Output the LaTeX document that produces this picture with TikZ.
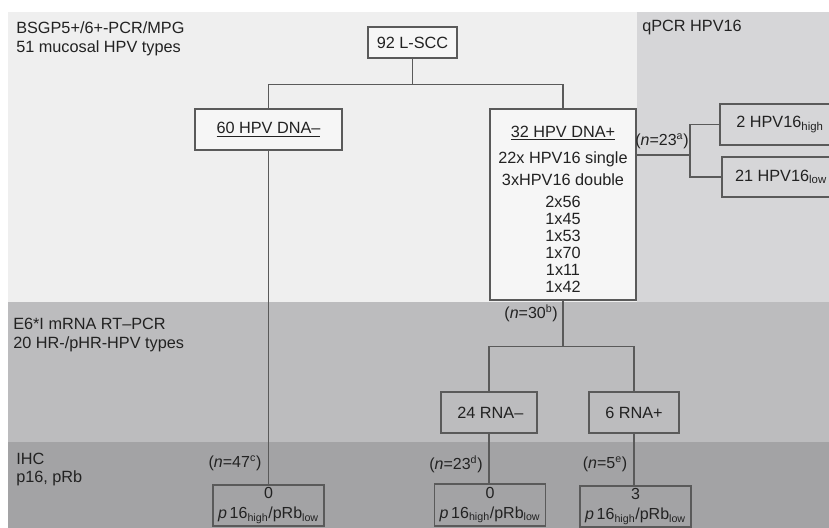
\documentclass[tikz,border=0pt]{standalone}
\usepackage{fontspec}
\setmainfont{Liberation Sans}
\usetikzlibrary{calc}
\definecolor{bandA}{HTML}{EFEFEF}
\definecolor{bandQ}{HTML}{D6D6D8}
\definecolor{bandB}{HTML}{BCBCBE}
\definecolor{bandC}{HTML}{A3A3A5}
\definecolor{boxfill}{HTML}{F6F6F6}
\definecolor{linec}{HTML}{5A5A5A}
\definecolor{txt}{HTML}{222222}
\tikzset{
  fbox/.style={draw=linec, line width=0.8pt, inner sep=0pt, text=txt, font=\fontsize{12.2}{14}\selectfont},
  wbox/.style={fbox, fill=boxfill},
  conn/.style={draw=linec, line width=0.8pt},
  lbl/.style={inner sep=0pt, text=txt, font=\fontsize{12.2}{14}\selectfont},
  nlbl/.style={inner sep=0pt, text=txt, font=\fontsize{12}{13}\selectfont},
  pbox/.style={fbox, align=center, font=\fontsize{12}{15}\selectfont},
}
\newcommand{\nlab}[2]{(\textit{n}=#1\textsuperscript{#2})}
\newcommand{\pline}{\textit{p}\,16\textsubscript{high}/pRb\textsubscript{low}}
\begin{document}
\begin{tikzpicture}[x=0.75pt,y=-0.75pt]
\useasboundingbox (0,0) rectangle (829,528);
\begin{scope}
\clip (0,0) rectangle (829,528);
% bands
\fill[white] (0,0) rectangle (829,528);
\fill[bandA] (8,12) rectangle (637,302);
\fill[bandQ] (637,12) rectangle (829,302);
\fill[bandB] (8,302) rectangle (829,442);
\fill[bandC] (8,442) rectangle (829,528);

% band labels
\node[lbl, anchor=base west] (b1a) at (16,34) {BSGP5+/6+-PCR/MPG};
\node[lbl, anchor=base west] (b1b) at (16,53) {51 mucosal HPV types};
\node[lbl, anchor=base west] (bq) at (642,32) {qPCR HPV16};
\node[lbl, anchor=base west] (b2a) at (13,329) {E6*I mRNA RT–PCR};
\node[lbl, anchor=base west] (b2b) at (13,348) {20 HR-/pHR-HPV types};
\node[lbl, anchor=base west] (b3a) at (16,464) {IHC};
\node[lbl, anchor=base west] (b3b) at (16,482) {p16, pRb};

% boxes
\node[wbox, minimum width=66.75pt, minimum height=23.25pt] (lscc) at (412.5,42.5) {92 L-SCC};
\node[wbox, minimum width=110.25pt, minimum height=30.75pt] (dnaneg) at (268.5,129.5) {\underline{60 HPV DNA–}};
\node[wbox, minimum width=109.5pt, minimum height=143.25pt] (dnapos) at (563,204.5) {};
\node[fbox, minimum width=90pt, minimum height=30.75pt] (high) at (780,124.5) {2 HPV16\textsubscript{high}};
\node[fbox, minimum width=88.5pt, minimum height=30pt] (low) at (781,177) {21 HPV16\textsubscript{low}};
\node[fbox, minimum width=72pt, minimum height=30.75pt] (rneg) at (489,412.5) {\,24 RNA–};
\node[fbox, minimum width=67.5pt, minimum height=30.75pt] (rpos) at (634,412.5) {6 RNA+};
\node[pbox, minimum width=83.25pt, minimum height=30.75pt] (p1) at (268.5,505.5) {0\\\pline};
\node[pbox, minimum width=83.25pt, minimum height=31.5pt] (p2) at (490,505) {0\\\pline};
\node[pbox, minimum width=83.25pt, minimum height=30.75pt] (p3) at (635.5,506.5) {3\\\pline};

% contents of 32 HPV DNA+
\node[lbl, anchor=base] (d1) at (563,137.5) {\underline{32 HPV DNA+}};
\node[lbl, anchor=base] (d2) at (563,163.5) {22x HPV16 single};
\node[lbl, anchor=base] (d3) at (563,185.5) {3xHPV16 double};
\foreach \t [count=\i] in {2x56,1x45,1x53,1x70,1x11,1x42}{
  \node[lbl, anchor=base] (dl\i) at (563,207.5+17*\i-17) {\t};
}

% connectors
\draw[conn] (lscc.south) -- ++(0,26) coordinate (j1) -| (dnaneg.north);
\draw[conn] (j1) -| (dnapos.north);
\draw[conn] (dnaneg.south) -- (p1.north);
\coordinate (qj) at (690,155);
\draw[conn] (qj -| dnapos.east) -- (qj);
\draw[conn] (high.west) -| (qj) |- (low.west);
\draw[conn] (dnapos.south) -- ++(0,46) coordinate (j2) -| (rneg.north);
\draw[conn] (j2) -| (rpos.north);
\draw[conn] (rneg.south) -- (rneg.south |- p2.north);
\draw[conn] (rpos.south) -- (rpos.south |- p3.north);

% n labels
\node[nlbl] (n23a) at (662,141) {\nlab{23}{a}};
\node[nlbl, anchor=east] (n30b) at (558,313) {\nlab{30}{b}};
\node[nlbl] (n47c) at (235,463) {\nlab{47}{c}};
\node[nlbl] (n23d) at (456,464) {\nlab{23}{d}};
\node[nlbl] (n5e) at (605,464) {\nlab{5}{e}};
\end{scope}
\end{tikzpicture}
\end{document}
